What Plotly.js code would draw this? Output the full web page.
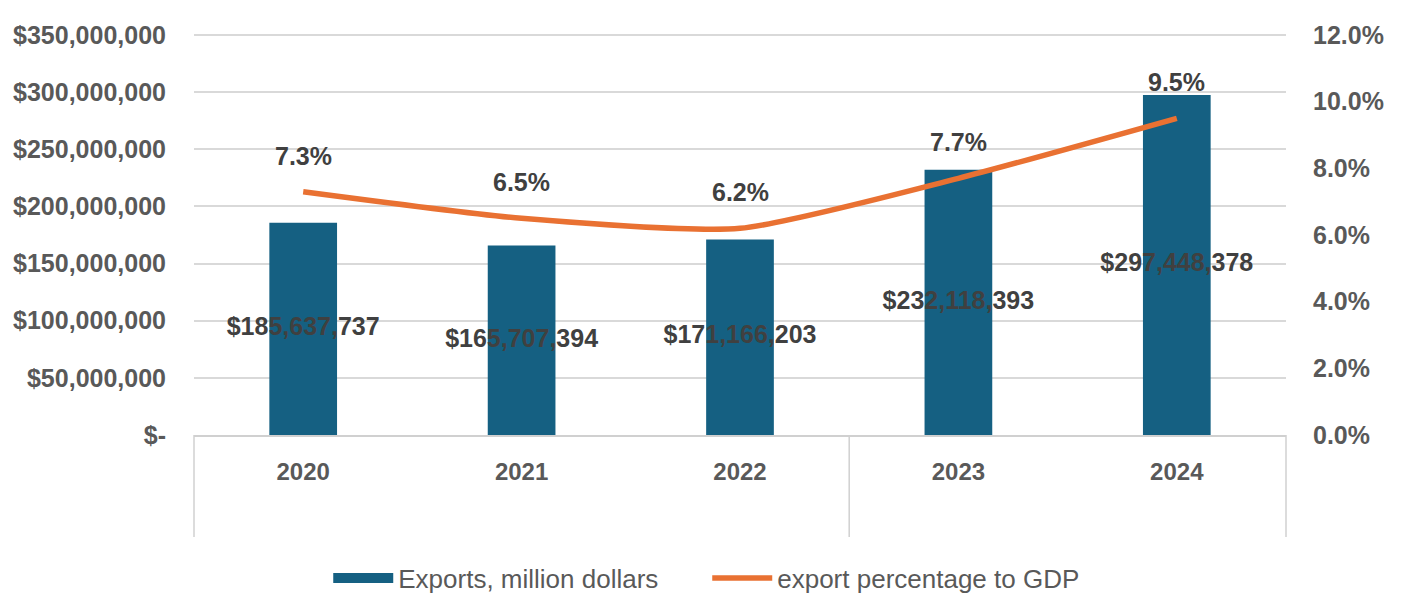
<!DOCTYPE html>
<html>
<head>
<meta charset="utf-8">
<script src="https://cdn.plot.ly/plotly-3.0.1.min.js"></script>
<style>
  html, body { margin: 0; padding: 0; background: #ffffff; }
  #chart { width: 1406px; height: 602px; }
</style>
</head>
<body>
<div id="chart"></div>
<script>
const years = ['2020', '2021', '2022', '2023', '2024'];
const exportsValues = [185637737, 165707394, 171166203, 232118393, 297448378];
const gdpShare = [0.073, 0.065, 0.062, 0.077, 0.095];
const leftTickVals = [0, 50000000, 100000000, 150000000, 200000000, 250000000, 300000000, 350000000];
const leftTickText = ['$-', '$50,000,000', '$100,000,000', '$150,000,000', '$200,000,000', '$250,000,000', '$300,000,000', '$350,000,000'];
const rightTickVals = [0, 0.02, 0.04, 0.06, 0.08, 0.10, 0.12];
const seriesNames = ['Exports, million dollars', 'export percentage to GDP'];

const BLUE = '#156082';
const ORANGE = '#E97132';
const TEXT = '#595959';
const LABEL = '#404040';
const FONT = 'Liberation Sans, Arial, sans-serif';

// legend-only entry so the bar series gets a wide swatch like the reference
const barLegend = {
  type: 'scatter',
  mode: 'lines',
  x: [null],
  y: [null],
  name: seriesNames[0],
  line: { color: BLUE, width: 14 },
  hoverinfo: 'skip'
};

const barTrace = {
  type: 'bar',
  x: years,
  y: exportsValues,
  name: seriesNames[0],
  marker: { color: BLUE },
  width: 0.31,
  showlegend: false,
  hoverinfo: 'skip'
};

const barLabels = {
  type: 'scatter',
  mode: 'text',
  x: years,
  y: exportsValues.map(v => v / 2),
  text: exportsValues.map(v => '$' + v.toLocaleString('en-US')),
  textposition: 'middle center',
  textfont: { family: FONT, size: 25, color: LABEL, weight: 'bold' },
  showlegend: false,
  hoverinfo: 'skip'
};

const lineTrace = {
  type: 'scatter',
  mode: 'lines',
  x: years,
  y: gdpShare,
  yaxis: 'y2',
  name: seriesNames[1],
  line: { color: ORANGE, width: 5.5, shape: 'spline', smoothing: 0.6 },
  hoverinfo: 'skip'
};

const pctAnnotations = years.map((yr, i) => ({
  x: i,
  y: gdpShare[i],
  xref: 'x',
  yref: 'y2',
  text: (gdpShare[i] * 100).toFixed(1) + '%',
  showarrow: false,
  yshift: 36,
  font: { family: FONT, size: 25, color: LABEL, weight: 'bold' }
}));

const boxLine = { color: '#d0d0d0', width: 1.5 };
const shapes = [
  { type: 'line', xref: 'paper', yref: 'paper', x0: 0, x1: 1, y0: 1, y1: 1, line: { color: '#d9d9d9', width: 2 }, layer: 'below' },
  { type: 'line', xref: 'paper', yref: 'paper', x0: 0, x1: 0, y0: 0, y1: -0.255, line: boxLine },
  { type: 'line', xref: 'paper', yref: 'paper', x0: 1, x1: 1, y0: 0, y1: -0.255, line: boxLine },
  { type: 'line', xref: 'paper', yref: 'paper', x0: 0.6, x1: 0.6, y0: 0, y1: -0.255, line: boxLine }
];

const layout = {
  width: 1406,
  height: 602,
  margin: { l: 194, r: 120, t: 35, b: 167, autoexpand: false },
  paper_bgcolor: '#ffffff',
  plot_bgcolor: '#ffffff',
  showlegend: true,
  legend: {
    orientation: 'h',
    x: 0.47,
    xanchor: 'center',
    y: -0.3575,
    yanchor: 'middle',
    font: { family: FONT, size: 26, color: TEXT },
    itemwidth: 60,
    entrywidth: 304,
    entrywidthmode: 'pixels',
    traceorder: 'normal'
  },
  xaxis: {
    type: 'category',
    categoryorder: 'array',
    categoryarray: years,
    range: [-0.5, 4.5],
    autorange: false,
    tickfont: { family: FONT, size: 24, color: TEXT, weight: 'bold' },
    ticks: '',
    showline: true,
    linecolor: '#d0d0d0',
    linewidth: 2,
    ticklabelstandoff: 14,
    fixedrange: true
  },
  yaxis: {
    range: [0, 350000000],
    autorange: false,
    tickvals: leftTickVals,
    ticktext: leftTickText,
    tickfont: { family: FONT, size: 25, color: TEXT, weight: 'bold' },
    showgrid: true,
    gridcolor: '#d9d9d9',
    gridwidth: 2,
    zeroline: false,
    ticks: '',
    ticklabelstandoff: 27,
    fixedrange: true
  },
  yaxis2: {
    overlaying: 'y',
    side: 'right',
    range: [0, 0.12],
    autorange: false,
    tickvals: rightTickVals,
    tickformat: '.1%',
    tickfont: { family: FONT, size: 25, color: TEXT, weight: 'bold' },
    showgrid: false,
    zeroline: false,
    ticks: '',
    ticklabelstandoff: 26,
    fixedrange: true
  },
  annotations: pctAnnotations,
  shapes: shapes
};

Plotly.newPlot('chart', [barLegend, barTrace, lineTrace, barLabels], layout, { displayModeBar: false, staticPlot: true });
</script>
</body>
</html>
